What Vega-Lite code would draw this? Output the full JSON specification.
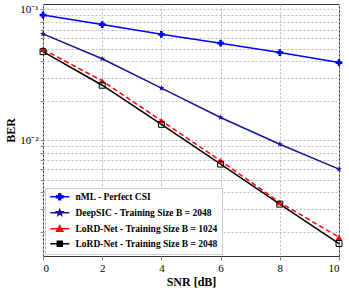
{
  "$schema": "https://vega.github.io/schema/vega-lite/v6.json",
  "width": 296,
  "height": 252,
  "autosize": "none",
  "padding": {"left": 43, "top": 4, "right": 10, "bottom": 35},
  "config": {
    "view": {"stroke": "#333"}
  },
  "data": {
    "values": [
      {"snr": 0, "ber": 0.0905, "series": "nML - Perfect CSI"},
      {"snr": 2, "ber": 0.0766, "series": "nML - Perfect CSI"},
      {"snr": 4, "ber": 0.0645, "series": "nML - Perfect CSI"},
      {"snr": 6, "ber": 0.0552, "series": "nML - Perfect CSI"},
      {"snr": 8, "ber": 0.0468, "series": "nML - Perfect CSI"},
      {"snr": 10, "ber": 0.0392, "series": "nML - Perfect CSI"},
      {"snr": 0, "ber": 0.065, "series": "DeepSIC - Training Size B = 2048"},
      {"snr": 2, "ber": 0.0419, "series": "DeepSIC - Training Size B = 2048"},
      {"snr": 4, "ber": 0.025, "series": "DeepSIC - Training Size B = 2048"},
      {"snr": 6, "ber": 0.0149, "series": "DeepSIC - Training Size B = 2048"},
      {"snr": 8, "ber": 0.0093, "series": "DeepSIC - Training Size B = 2048"},
      {"snr": 10, "ber": 0.006, "series": "DeepSIC - Training Size B = 2048"},
      {"snr": 0, "ber": 0.0495, "series": "LoRD-Net - Training Size B = 1024"},
      {"snr": 2, "ber": 0.0284, "series": "LoRD-Net - Training Size B = 1024"},
      {"snr": 4, "ber": 0.0141, "series": "LoRD-Net - Training Size B = 1024"},
      {"snr": 6, "ber": 0.00695, "series": "LoRD-Net - Training Size B = 1024"},
      {"snr": 8, "ber": 0.00334, "series": "LoRD-Net - Training Size B = 1024"},
      {"snr": 10, "ber": 0.00181, "series": "LoRD-Net - Training Size B = 1024"},
      {"snr": 0, "ber": 0.0475, "series": "LoRD-Net - Training Size B = 2048"},
      {"snr": 2, "ber": 0.0263, "series": "LoRD-Net - Training Size B = 2048"},
      {"snr": 4, "ber": 0.0132, "series": "LoRD-Net - Training Size B = 2048"},
      {"snr": 6, "ber": 0.00656, "series": "LoRD-Net - Training Size B = 2048"},
      {"snr": 8, "ber": 0.00324, "series": "LoRD-Net - Training Size B = 2048"},
      {"snr": 10, "ber": 0.00162, "series": "LoRD-Net - Training Size B = 2048"}
    ]
  },
  "encoding": {
    "x": {
      "field": "snr", "type": "quantitative",
      "scale": {"domain": [0, 10], "nice": false},
      "axis": {
        "values": [0, 2, 4, 6, 8, 10],
        "title": "SNR [dB]",
        "titleFont": "Liberation Serif", "titleFontSize": 12, "titleFontWeight": "bold", "titlePadding": 3,
        "labelFont": "Liberation Serif", "labelFontSize": 11, "labelPadding": 2,
        "tickSize": 4, "domain": false,
        "grid": true, "gridColor": "#bbb", "gridDash": [2, 2]
      }
    },
    "y": {
      "field": "ber", "type": "quantitative",
      "scale": {"type": "log", "domain": [0.0013, 0.11], "nice": false},
      "axis": {
        "values": [0.002, 0.003, 0.004, 0.005, 0.006, 0.007, 0.008, 0.009, 0.01, 0.02, 0.03, 0.04, 0.05, 0.06, 0.07, 0.08, 0.09, 0.1],
        "labelExpr": "datum.value == 0.1 ? '10⁻¹' : (datum.value == 0.01 ? '10⁻²' : '')",
        "title": "BER",
        "titleFont": "Liberation Serif", "titleFontSize": 12, "titleFontWeight": "bold", "titlePadding": 2,
        "labelFont": "Liberation Serif", "labelFontSize": 11, "labelPadding": 2,
        "tickSize": 3, "domain": false,
        "grid": true, "gridColor": "#bbb", "gridDash": [2, 2]
      }
    },
    "color": {
      "field": "series", "type": "nominal",
      "scale": {
        "domain": ["nML - Perfect CSI", "DeepSIC - Training Size B = 2048", "LoRD-Net - Training Size B = 1024", "LoRD-Net - Training Size B = 2048"],
        "range": ["#0000ff", "#14149b", "#ff0000", "#000000"]
      },
      "legend": {
        "title": null,
        "orient": "bottom-left",
        "offset": 2,
        "fillColor": "white",
        "strokeColor": "#ccc",
        "padding": 4,
        "labelFont": "Liberation Serif",
        "labelFontWeight": "bold",
        "labelFontSize": 9.5,
        "symbolSize": 40,
        "symbolOffset": 6,
        "labelOffset": 11,
        "rowPadding": 3,
        "encode": {
          "symbols": {
            "update": {
              "shape": {"signal": "datum.value == 'nML - Perfect CSI' ? 'M-3,0H3M-1,-0.3H1V0.3H-1ZM-0.3,-1H0.3V1H-0.3Z' : (datum.value == 'DeepSIC - Training Size B = 2048' ? 'M-3,0H3M0,-1L0.235,-0.324L0.951,-0.309L0.380,0.124L0.588,0.809L0,0.4L-0.588,0.809L-0.380,0.124L-0.951,-0.309L-0.235,-0.324Z' : (datum.value == 'LoRD-Net - Training Size B = 1024' ? 'M-3,0H3M0,-1L1,0.8H-1Z' : 'M-3,0H3M-0.8,-0.8H0.8V0.8H-0.8Z'))"},
              "stroke": {"signal": "scale('color', datum.value)"},
              "fill": {"signal": "datum.value == 'LoRD-Net - Training Size B = 2048' ? 'transparent' : scale('color', datum.value)"},
              "strokeWidth": {"value": 1.4},
              "opacity": {"value": 1}
            }
          }
        }
      }
    }
  },
  "layer": [
    {
      "transform": [{"filter": "datum.series != 'LoRD-Net - Training Size B = 1024'"}],
      "mark": {"type": "line", "strokeWidth": 1.5},
      "encoding": {}
    },
    {
      "transform": [{"filter": "datum.series == 'LoRD-Net - Training Size B = 1024'"}],
      "mark": {"type": "line", "strokeWidth": 1.5, "strokeDash": [5, 3]},
      "encoding": {}
    },
    {
      "transform": [{"filter": "datum.series == 'nML - Perfect CSI'"}],
      "mark": {"type": "point", "shape": "cross", "filled": true, "size": 45, "opacity": 1},
      "encoding": {}
    },
    {
      "transform": [{"filter": "datum.series == 'DeepSIC - Training Size B = 2048'"}],
      "mark": {"type": "point", "shape": "M0,-1L0.235,-0.324L0.951,-0.309L0.380,0.124L0.588,0.809L0,0.4L-0.588,0.809L-0.380,0.124L-0.951,-0.309L-0.235,-0.324Z", "filled": true, "size": 40, "opacity": 1},
      "encoding": {}
    },
    {
      "transform": [{"filter": "datum.series == 'LoRD-Net - Training Size B = 1024'"}],
      "mark": {"type": "point", "shape": "triangle-up", "filled": true, "size": 40, "opacity": 1},
      "encoding": {}
    },
    {
      "transform": [{"filter": "datum.series == 'LoRD-Net - Training Size B = 2048'"}],
      "mark": {"type": "point", "shape": "square", "filled": false, "size": 35, "strokeWidth": 1, "opacity": 1},
      "encoding": {}
    }
  ]
}
